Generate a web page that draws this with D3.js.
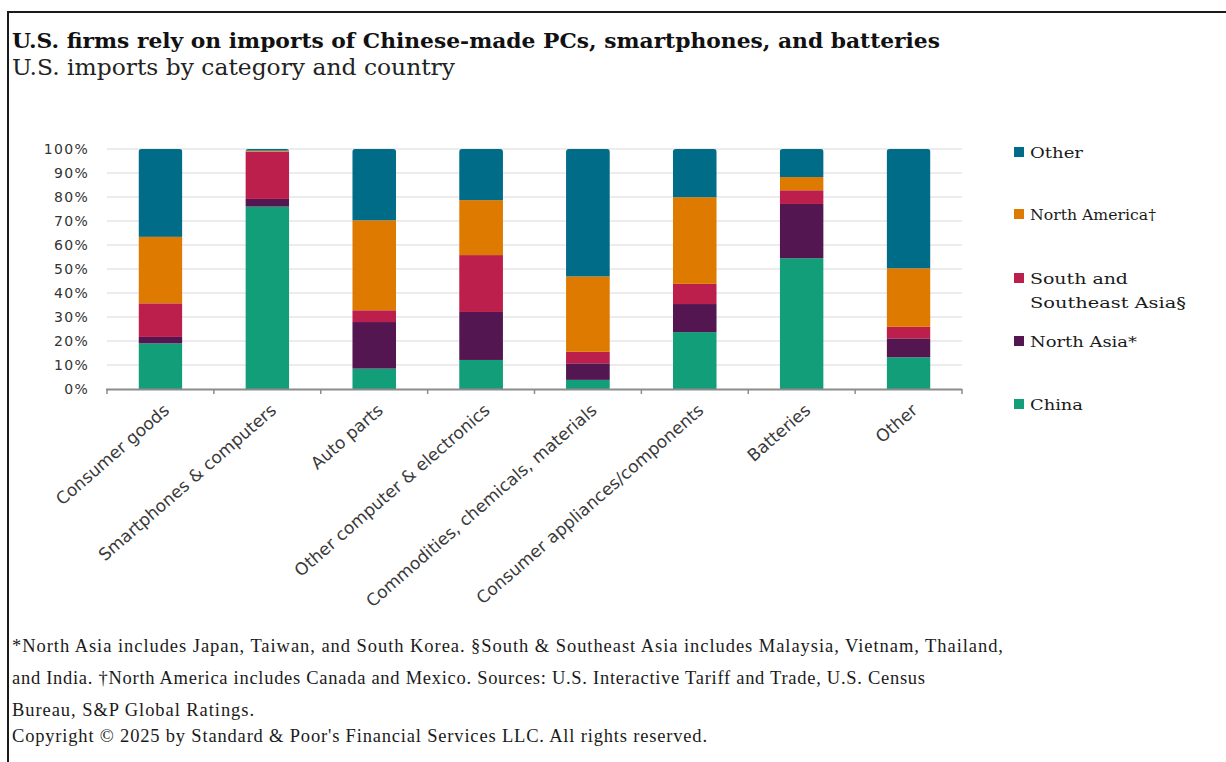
<!DOCTYPE html>
<html>
<head>
<meta charset="utf-8">
<script src="https://cdn.jsdelivr.net/npm/d3@7"></script>
<style>
  body { margin: 0; background: #fff; }
  svg { display: block; }
</style>
</head>
<body>
<div id="chart"></div>
<script>
// categories along the x axis
const categories = ['Consumer goods', 'Smartphones & computers', 'Auto parts',
  'Other computer & electronics', 'Commodities, chemicals, materials',
  'Consumer appliances/components', 'Batteries', 'Other']

// shares (%) by origin, bottom to top
const china = [19.0, 76.0, 8.5, 12.1, 3.8, 23.7, 54.5, 13.2]
const northAsia = [2.7, 3.2, 19.4, 20.0, 6.9, 11.7, 22.6, 7.9]
const southAsia = [14.0, 19.7, 4.9, 23.7, 4.8, 8.4, 5.7, 4.8]
const northAmerica = [27.7, 0.4, 37.5, 22.9, 31.4, 36.1, 5.5, 24.4]
const other = [36.6, 0.7, 29.7, 21.3, 53.1, 20.1, 11.7, 49.7]

const seriesNames = ['China', 'North Asia*', 'South and Southeast Asia§', 'North America†', 'Other']
const seriesValues = [china, northAsia, southAsia, northAmerica, other]
const seriesColors = ['#129e78', '#541651', '#bc1f4c', '#df7a00', '#006c87']

const yTicks = [0, 10, 20, 30, 40, 50, 60, 70, 80, 90, 100]

const titleText = 'U.S. firms rely on imports of Chinese-made PCs, smartphones, and batteries'
const subtitleText = 'U.S. imports by category and country'
const footLines = [
  '*North Asia includes Japan, Taiwan, and South Korea. §South & Southeast Asia includes Malaysia, Vietnam, Thailand,',
  'and India. †North America includes Canada and Mexico. Sources:  U.S. Interactive Tariff and Trade, U.S. Census',
  'Bureau, S&P Global Ratings.',
  'Copyright © 2025 by Standard & Poor\'s Financial Services LLC. All rights reserved.'
]

const W = 1226, H = 762
const serif = '"Liberation Serif", "Times New Roman", serif'
const wideSerif = '"DejaVu Serif", Georgia, serif'
const sans = '"DejaVu Sans", Verdana, sans-serif'

const svg = d3.select('#chart').append('svg')
  .attr('width', W).attr('height', H)

// frame: top and left edges only
svg.append('path')
  .attr('d', 'M8,' + H + ' L8,12 L' + W + ',12')
  .attr('fill', 'none')
  .attr('stroke', '#1a1a1a')
  .attr('stroke-width', 2)

svg.append('text')
  .attr('x', 12).attr('y', 48)
  .attr('font-family', wideSerif).attr('font-weight', 'bold').attr('font-size', 20)
  .attr('fill', '#111')
  .attr('textLength', 928).attr('lengthAdjust', 'spacingAndGlyphs')
  .text(titleText)

svg.append('text')
  .attr('x', 12).attr('y', 75)
  .attr('font-family', wideSerif).attr('font-size', 21.5)
  .attr('fill', '#222')
  .attr('textLength', 443).attr('lengthAdjust', 'spacingAndGlyphs')
  .text(subtitleText)

// scales
const x = d3.scaleBand().domain(categories).range([107, 962]).paddingInner(0.59).paddingOuter(0.295)
const y = d3.scaleLinear().domain([0, 100]).range([389, 149])

// gridlines
svg.append('g').selectAll('line')
  .data(yTicks.slice(1)).enter().append('line')
  .attr('x1', 107).attr('x2', 962)
  .attr('y1', d => y(d)).attr('y2', d => y(d))
  .attr('stroke', '#e6e6e6').attr('stroke-width', 1.3)

// y labels
svg.append('g').selectAll('text')
  .data(yTicks).enter().append('text')
  .attr('x', 89).attr('y', d => y(d))
  .attr('dy', '0.36em')
  .attr('text-anchor', 'end')
  .attr('font-family', sans).attr('font-size', 14)
  .attr('letter-spacing', 1.3)
  .attr('fill', '#333')
  .text(d => d + '%')

// stacked bars
const rows = categories.map((c, i) => {
  const r = { cat: c }
  seriesNames.forEach((s, k) => { r[s] = seriesValues[k][i] })
  return r
})
const stacked = d3.stack().keys(seriesNames)(rows)

const defs = svg.append('defs')
categories.forEach((c, i) => {
  defs.append('clipPath').attr('id', 'clip' + i)
    .append('rect')
    .attr('x', x(c)).attr('y', y(100))
    .attr('width', x.bandwidth()).attr('height', y(0) - y(100) + 6)
    .attr('rx', 3)
})

const barG = svg.append('g')
categories.forEach((c, i) => {
  const g = barG.append('g').attr('clip-path', 'url(#clip' + i + ')')
  stacked.forEach((layer, k) => {
    const d = layer[i]
    g.append('rect')
      .attr('x', x(c))
      .attr('y', y(d[1]))
      .attr('width', x.bandwidth())
      .attr('height', Math.max(0, y(d[0]) - y(d[1])))
      .attr('fill', seriesColors[k])
  })
})

// x axis
const xAxis = svg.append('g')
xAxis.append('line')
  .attr('x1', 106).attr('x2', 962).attr('y1', 389.5).attr('y2', 389.5)
  .attr('stroke', '#8c8c8c').attr('stroke-width', 2)
const bounds = d3.range(categories.length + 1).map(i => 107 + i * x.step())
xAxis.selectAll('line.tick')
  .data(bounds).enter().append('line')
  .attr('class', 'tick')
  .attr('x1', d => d).attr('x2', d => d)
  .attr('y1', 389).attr('y2', 394)
  .attr('stroke', '#8c8c8c').attr('stroke-width', 1.5)

xAxis.selectAll('text')
  .data(categories).enter().append('text')
  .attr('transform', d => 'translate(' + (x(d) + x.bandwidth() / 2 + 10) + ',412) rotate(-41)')
  .attr('text-anchor', 'end')
  .attr('font-family', sans).attr('font-size', 17)
  .attr('fill', '#3a3a3a')
  .text(d => d)

// legend, top to bottom: Other first
const legendItems = [
  { lines: ['Other'], widths: [53], color: seriesColors[4], y: 152 },
  { lines: ['North America†'], widths: [126], color: seriesColors[3], y: 214 },
  { lines: ['South and', 'Southeast Asia§'], widths: [98, 156], color: seriesColors[2], y: 278 },
  { lines: ['North Asia*'], widths: [107], color: seriesColors[1], y: 341 },
  { lines: ['China'], widths: [53], color: seriesColors[0], y: 404 }
]
const leg = svg.append('g').selectAll('g')
  .data(legendItems).enter().append('g')
  .attr('transform', d => 'translate(1014,' + d.y + ')')
leg.append('rect')
  .attr('x', 0).attr('y', -5).attr('width', 10).attr('height', 10)
  .attr('fill', d => d.color)
leg.selectAll('text')
  .data(d => d.lines.map((t, i) => ({ t: t, i: i, w: d.widths[i] })))
  .enter().append('text')
  .attr('x', 16)
  .attr('y', d => 6 + d.i * 24)
  .attr('font-family', wideSerif).attr('font-size', 14.5)
  .attr('fill', '#1a1a1a')
  .attr('textLength', d => d.w).attr('lengthAdjust', 'spacingAndGlyphs')
  .text(d => d.t)

// footnotes
const footWidths = [991, 913, 242, 695]
const footY = [652, 684, 716, 742]
svg.append('g').selectAll('text')
  .data(footLines).enter().append('text')
  .attr('x', 12).attr('y', (d, i) => footY[i])
  .attr('font-family', serif).attr('font-size', 18.5)
  .attr('fill', '#1a1a1a')
  .attr('textLength', (d, i) => footWidths[i]).attr('lengthAdjust', 'spacing')
  .text(d => d)
</script>
</body>
</html>
